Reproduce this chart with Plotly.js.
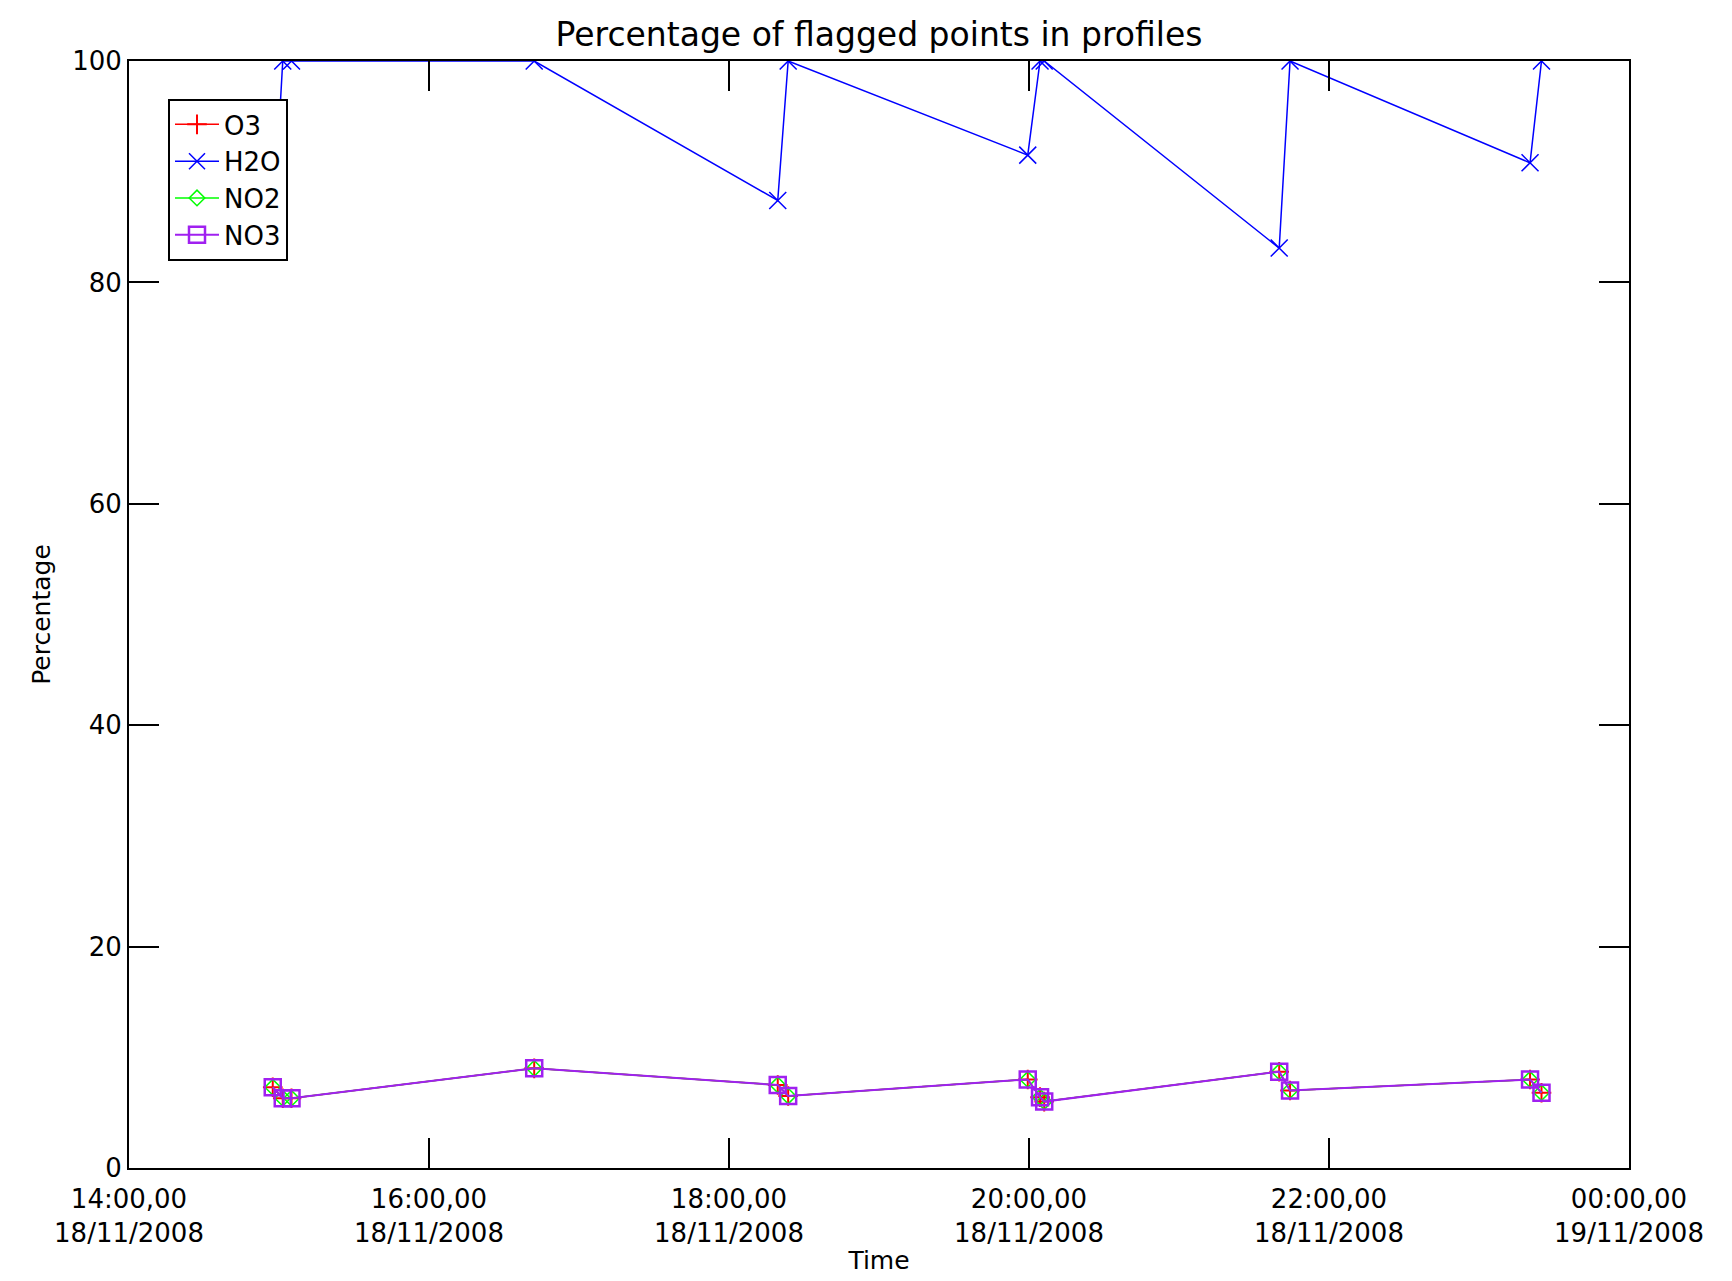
<!DOCTYPE html>
<html>
<head>
<meta charset="utf-8">
<script src="https://cdn.plot.ly/plotly-3.0.1.min.js"></script>
<style>html,body{margin:0;padding:0;background:#fff;}#chart{width:1732px;height:1281px;}</style>
</head>
<body>
<div id="chart"></div>
<script>
// Profile times (18/11/2008)
var times = [
  '2008-11-18 14:57:30', '2008-11-18 15:01:30', '2008-11-18 15:05:00',
  '2008-11-18 16:42:05',
  '2008-11-18 18:19:30', '2008-11-18 18:23:40',
  '2008-11-18 19:59:30', '2008-11-18 20:04:25', '2008-11-18 20:06:05',
  '2008-11-18 21:40:05', '2008-11-18 21:44:25',
  '2008-11-18 23:20:25', '2008-11-18 23:25:00'
];
// Percentage of flagged points per species
var o3  = [7.3, 6.3, 6.3, 9.0, 7.5, 6.5, 8.0, 6.4, 6.0, 8.7, 7.0, 8.0, 6.8];
var h2o = [84, 100, 100, 100, 87.4, 100, 91.5, 100, 100, 83.1, 100, 90.8, 100];
var no2 = [7.3, 6.3, 6.3, 9.0, 7.5, 6.5, 8.0, 6.4, 6.0, 8.7, 7.0, 8.0, 6.8];
var no3 = [7.3, 6.3, 6.3, 9.0, 7.5, 6.5, 8.0, 6.4, 6.0, 8.7, 7.0, 8.0, 6.8];
var seriesNames = ['O3', 'H2O', 'NO2', 'NO3'];

// Axis ticks
var xTickVals = ['2008-11-18 14:00', '2008-11-18 16:00', '2008-11-18 18:00',
                 '2008-11-18 20:00', '2008-11-18 22:00', '2008-11-19 00:00'];
var xTickText = ['14:00,00<br>18/11/2008', '16:00,00<br>18/11/2008', '18:00,00<br>18/11/2008',
                 '20:00,00<br>18/11/2008', '22:00,00<br>18/11/2008', '00:00,00<br>19/11/2008'];
var yTickVals = [0, 20, 40, 60, 80, 100];

var FONT = 'DejaVu Sans, sans-serif';

var traces = [
  {x: times, y: o3, name: seriesNames[0], mode: 'lines+markers',
   line: {color: '#ff0000', width: 1.5},
   marker: {symbol: 'cross-thin-open', size: 14, color: '#ff0000', line: {color: '#ff0000', width: 2}}},
  {x: times, y: h2o, name: seriesNames[1], mode: 'lines+markers',
   line: {color: '#0000ff', width: 1.5},
   marker: {symbol: 'x-thin-open', size: 17, color: '#0000ff', line: {color: '#0000ff', width: 1.5}}},
  {x: times, y: no2, name: seriesNames[2], mode: 'lines+markers',
   line: {color: '#00ff00', width: 1.5},
   marker: {symbol: 'diamond-open', size: 12, color: '#00ff00', line: {color: '#00ff00', width: 1.5}}},
  {x: times, y: no3, name: seriesNames[3], mode: 'lines+markers',
   line: {color: '#a020f0', width: 2},
   marker: {symbol: 'square-open', size: 16, color: '#a020f0', line: {color: '#a020f0', width: 2.5}}}
];

var layout = {
  width: 1732, height: 1281,
  margin: {l: 129, r: 103, t: 61, b: 113},
  paper_bgcolor: '#ffffff', plot_bgcolor: '#ffffff',
  font: {family: FONT, color: '#000000', size: 26},
  showlegend: true,
  title: {text: 'Percentage of flagged points in profiles', font: {family: FONT, size: 33, color: '#000'},
          x: 0.5, xref: 'paper', xanchor: 'center', y: 0.973, yref: 'container', yanchor: 'middle'},
  xaxis: {
    type: 'date',
    range: ['2008-11-18 14:00', '2008-11-19 00:00'],
    tickmode: 'array', tickvals: xTickVals, ticktext: xTickText,
    ticks: 'inside', ticklen: 30, tickwidth: 2, tickcolor: '#000',
    showline: true, linecolor: '#000', linewidth: 2, mirror: 'ticks',
    showgrid: false, zeroline: false, automargin: false,
    ticklabelstandoff: 7,
    tickfont: {family: FONT, size: 26, color: '#000'},
    title: {text: 'Time', font: {family: FONT, size: 25, color: '#000'}, standoff: 4}
  },
  yaxis: {
    range: [0, 100],
    tickmode: 'array', tickvals: yTickVals,
    ticks: 'inside', ticklen: 30, tickwidth: 2, tickcolor: '#000',
    showline: true, linecolor: '#000', linewidth: 2, mirror: 'ticks',
    showgrid: false, zeroline: false, automargin: false,
    tickfont: {family: FONT, size: 26, color: '#000'},
    title: {text: 'Percentage', font: {family: FONT, size: 25, color: '#000'}, standoff: 14}
  },
  legend: {
    x: 0.026, xanchor: 'left', y: 0.9657, yanchor: 'top',
    bgcolor: '#ffffff', bordercolor: '#000000', borderwidth: 2,
    font: {family: FONT, size: 26, color: '#000'},
    itemwidth: 44, tracegroupgap: 0
  }
};

Plotly.newPlot('chart', traces, layout, {displayModeBar: false, staticPlot: true});
</script>
</body>
</html>
